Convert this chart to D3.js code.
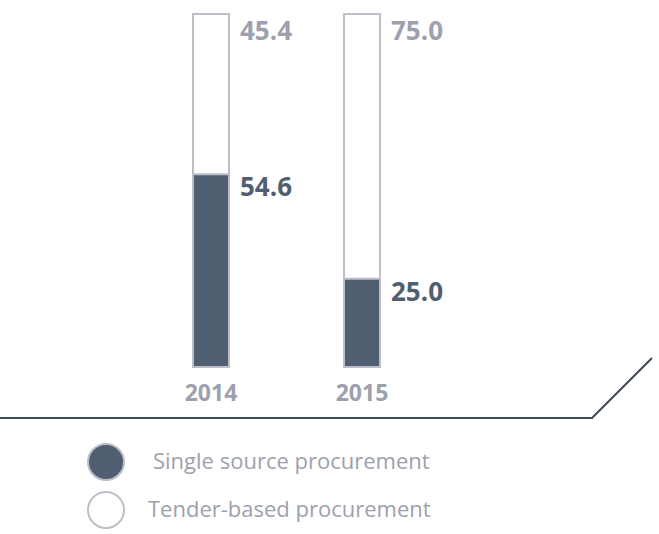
<!DOCTYPE html><html><head><meta charset="utf-8"><script src="https://cdn.jsdelivr.net/npm/d3@7"></script>
<style>body{margin:0;background:#fff}text{font-family:"Open Sans",sans-serif}</style></head><body>
<svg id="c" width="659" height="534"></svg>
<script>
const years=["2014","2015"];
const single=[54.6,25.0];
const tender=[45.4,75.0];
const legendLabels=["Single source procurement","Tender-based procurement"];
const dark="#505e72",grey="#9da1ad",border="#bcbfc8";
const svg=d3.select("#c");
const x=d3.scaleOrdinal().domain(years).range([193,344]);
const y=d3.scaleLinear().domain([0,100]).range([367,14]);
const bw=36;
years.forEach((yr,i)=>{
  const x0=x(yr);
  svg.append("rect").attr("x",x0).attr("y",y(100)).attr("width",bw).attr("height",y(0)-y(100)).attr("fill","#fff").attr("stroke",border).attr("stroke-width",2);
  svg.append("rect").attr("x",x0).attr("y",y(single[i])).attr("width",bw).attr("height",y(0)-y(single[i])).attr("fill",dark).attr("stroke",border).attr("stroke-width",2);
  svg.append("text").attr("x",x0+bw+11).attr("y",y(100)+26).attr("font-size",26).attr("font-weight",700).attr("fill",grey).text(tender[i].toFixed(1));
  svg.append("text").attr("x",x0+bw+11).attr("y",y(single[i])+22).attr("font-size",26).attr("font-weight",700).attr("fill",dark).text(single[i].toFixed(1));
  svg.append("text").attr("x",x0+bw/2).attr("y",401).attr("text-anchor","middle").attr("font-size",23).attr("font-weight",700).attr("fill",grey).text(yr);
});
svg.append("path").attr("d","M0,418L592,418L652,358").attr("fill","none").attr("stroke","#3c4a5c").attr("stroke-width",2);
const lx=[153,148];
legendLabels.forEach((l,i)=>{
  const cy=462+i*48;
  svg.append("circle").attr("cx",106).attr("cy",cy).attr("r",18).attr("fill",i==0?dark:"#fff").attr("stroke",border).attr("stroke-width",2);
  svg.append("text").attr("x",lx[i]).attr("y",cy+7).attr("font-size",22).attr("fill",grey).text(l);
});
</script></body></html>
